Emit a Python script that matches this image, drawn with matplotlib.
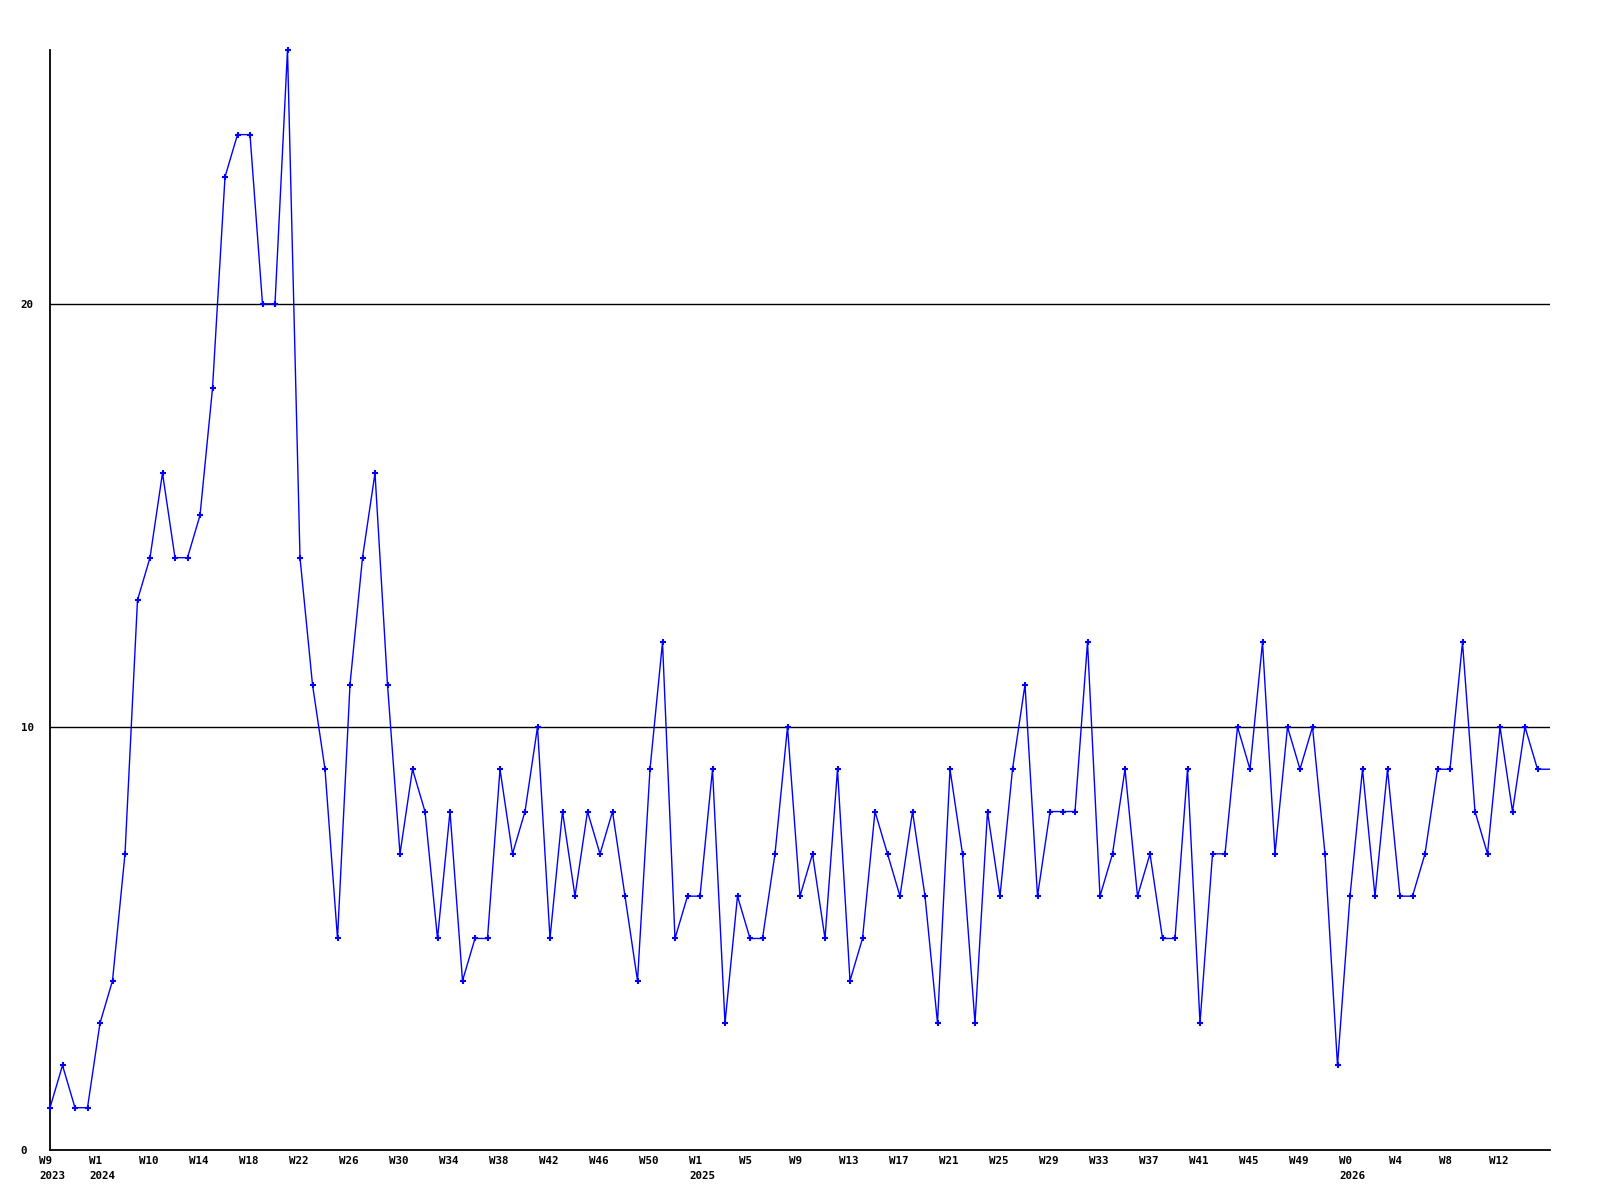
import matplotlib
matplotlib.use("Agg")
import matplotlib.pyplot as plt
import matplotlib.transforms as mtransforms

values = [1, 2, 1, 1, 3, 4, 7, 13, 14, 16, 14, 14, 15, 18, 23, 24, 24, 20, 20, 26,
          14, 11, 9, 5, 11, 14, 16, 11, 7, 9, 8, 5, 8, 4, 5, 5, 9, 7, 8, 10,
          5, 8, 6, 8, 7, 8, 6, 4, 9, 12, 5, 6, 6, 9, 3, 6, 5, 5, 7, 10,
          6, 7, 5, 9, 4, 5, 8, 7, 6, 8, 6, 3, 9, 7, 3, 8, 6, 9, 11, 6,
          8, 8, 8, 12, 6, 7, 9, 6, 7, 5, 5, 9, 3, 7, 7, 10, 9, 12, 7, 10,
          9, 10, 7, 2, 6, 9, 6, 9, 6, 6, 7, 9, 9, 12, 8, 7, 10, 8, 10, 9, 9]

tick_labels = ["W9\n2023", "W1\n2024", "W10", "W14", "W18", "W22", "W26", "W30",
               "W34", "W38", "W42", "W46", "W50", "W1\n2025", "W5", "W9", "W13",
               "W17", "W21", "W25", "W29", "W33", "W37", "W41", "W45", "W49",
               "W0\n2026", "W4", "W8", "W12"]
y_ticks = [0, 10, 20]
label_every = 4

fig = plt.figure(figsize=(16, 12), dpi=100)
ax = fig.add_axes([50 / 1600, 50 / 1200, 1500 / 1600, 1100 / 1200])

xs = list(range(len(values)))
ax.plot(xs, values, color="#0000ff", linewidth=1.0, zorder=3)
ax.plot(xs[:-1], values[:-1], linestyle="none", marker="+", markersize=4.5,
        markeredgewidth=1.5, color="#0000ff", zorder=4, clip_on=False)

ax.set_xlim(0, len(values) - 1)
ax.set_ylim(0, 26)

for y in y_ticks[1:]:
    ax.axhline(y, color="black", linewidth=1.0, zorder=2)

for s in ["top", "right"]:
    ax.spines[s].set_visible(False)
for s in ["left", "bottom"]:
    ax.spines[s].set_linewidth(1.3)
    ax.spines[s].set_color("black")

font = dict(family="DejaVu Sans Mono", weight="bold", size=7.8)

ax.set_yticks(y_ticks)
ax.set_yticklabels([str(v) for v in y_ticks], **font)
ax.tick_params(axis="y", length=0, pad=21)
for lab in ax.get_yticklabels():
    lab.set_horizontalalignment("left")

ax.set_xticks(xs[::label_every][:len(tick_labels)])
ax.set_xticklabels(tick_labels, linespacing=1.65, **font)
ax.tick_params(axis="x", length=0, pad=4.5)
off = mtransforms.ScaledTranslation(-11 / 100, 0, fig.dpi_scale_trans)
for lab in ax.get_xticklabels():
    lab.set_horizontalalignment("left")
    lab.set_verticalalignment("top")
    lab.set_multialignment("left")
    lab.set_transform(lab.get_transform() + off)

fig.savefig("out.png", dpi=100, facecolor="white")
